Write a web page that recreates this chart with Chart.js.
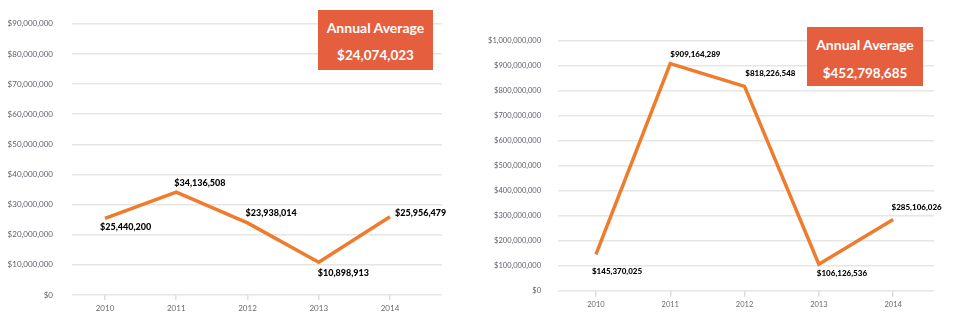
<!DOCTYPE html>
<html>
<head>
<meta charset="utf-8">
<script src="https://cdn.jsdelivr.net/npm/chart.js@4.4.1/dist/chart.umd.min.js"></script>
<style>
  html, body { margin: 0; padding: 0; background: #ffffff; }
  body { width: 954px; height: 332px; position: relative; overflow: hidden; font-family: Lato, "Open Sans", sans-serif; }
  .wrap { position: absolute; top: 0; }
  .avg { position: absolute; background: #e55e3e; color: #ffffff; font-weight: 700; text-align: center; }
  .avg div { position: absolute; left: 0; right: 0; line-height: 16px; white-space: nowrap; }
</style>
</head>
<body>
<div class="wrap" style="left:0;width:470px;height:332px;"><canvas id="c1" width="470" height="332"></canvas></div>
<div class="wrap" style="left:470px;width:484px;height:332px;"><canvas id="c2" width="484" height="332"></canvas></div>

<div class="avg" id="avg1" style="left:318px;top:10px;width:115px;height:60px;">
  <div style="top:10px;font-size:14px;">Annual Average</div>
  <div style="top:37px;font-size:13.5px;" id="avg1v"></div>
</div>
<div class="avg" id="avg2" style="left:807px;top:27px;width:116px;height:59px;">
  <div style="top:10px;font-size:14px;">Annual Average</div>
  <div style="top:38px;font-size:13.5px;" id="avg2v"></div>
</div>

<script>
// ---- data ----
const categories = ['2010', '2011', '2012', '2013', '2014'];
const valuesLeft = [25440200, 34136508, 23938014, 10898913, 25956479];
const valuesRight = [145370025, 909164289, 818226548, 106126536, 285106026];
const averageLeft = 24074023;
const averageRight = 452798685;
const yTicksLeft = [0, 10000000, 20000000, 30000000, 40000000, 50000000, 60000000, 70000000, 80000000, 90000000];
const yTicksRight = [0, 100000000, 200000000, 300000000, 400000000, 500000000, 600000000, 700000000, 800000000, 900000000, 1000000000];

const fmt = v => '$' + Number(v).toLocaleString('en-US');
document.getElementById('avg1v').textContent = fmt(averageLeft);
document.getElementById('avg2v').textContent = fmt(averageRight);

Chart.defaults.font.family = 'Lato, "Open Sans", sans-serif';

const labelPlugin = {
  id: 'pointLabels',
  afterDatasetsDraw(chart, args, opts) {
    const ctx = chart.ctx;
    const meta = chart.getDatasetMeta(0);
    const vals = chart.data.datasets[0].data;
    ctx.save();
    ctx.font = '900 ' + opts.size + 'px Lato, "Open Sans", sans-serif';
    ctx.fillStyle = '#000000';
    ctx.textAlign = 'left';
    ctx.textBaseline = 'middle';
    meta.data.forEach((el, i) => {
      const o = opts.offsets[i];
      ctx.fillText(fmt(vals[i].y), el.x + o[0], el.y + o[1]);
    });
    ctx.restore();
  }
};

function makeChart(id, values, yTicks, cfg) {
  const catNums = categories.map(Number);
  return new Chart(document.getElementById(id), {
    type: 'line',
    data: {
      datasets: [{
        data: catNums.map((x, i) => ({ x: x, y: values[i] })),
        borderColor: '#ef7b2d',
        borderWidth: 3.5,
        pointRadius: 0,
        pointHoverRadius: 0,
        tension: 0,
        fill: false
      }]
    },
    options: {
      responsive: false,
      animation: false,
      devicePixelRatio: 1,
      layout: { padding: cfg.padding },
      plugins: {
        legend: { display: false },
        tooltip: { enabled: false },
        pointLabels: { size: cfg.labelSize, offsets: cfg.offsets }
      },
      scales: {
        x: {
          type: 'linear',
          min: cfg.xMin,
          max: cfg.xMax,
          afterBuildTicks: s => { s.ticks = catNums.map(v => ({ value: v })); },
          afterFit: s => { s.height = cfg.xHeight; },
          ticks: {
            callback: v => String(v),
            color: '#6a6a70',
            font: { size: cfg.xFont },
            padding: cfg.xPad,
            maxRotation: 0
          },
          grid: { drawOnChartArea: false, drawTicks: true, tickLength: cfg.tickLen, color: '#dedede', lineWidth: 1.5 },
          border: { display: false }
        },
        y: {
          min: 0,
          max: yTicks[yTicks.length - 1],
          afterBuildTicks: s => { s.ticks = yTicks.map(v => ({ value: v })); },
          afterFit: s => { s.width = cfg.yWidth; },
          ticks: {
            callback: v => fmt(v),
            color: '#5e5e6a',
            font: { size: cfg.yFont },
            padding: cfg.yPad
          },
          grid: { drawTicks: false, color: '#e6e6e6', lineWidth: 1.5 },
          border: { display: false }
        }
      }
    },
    plugins: [labelPlugin]
  });
}

makeChart('c1', valuesLeft, yTicksLeft, {
  padding: { top: 20, right: 28, bottom: 0, left: 0 },
  xMin: 2009.537, xMax: 2014.73,
  xHeight: 37, xFont: 8, xPad: 4, tickLen: 5,
  yWidth: 72, yFont: 8, yPad: 19,
  labelSize: 9,
  offsets: [[-5, 8.5], [-2, -9], [-2, -10], [-1, 11], [5, -4]]
});

makeChart('c2', valuesRight, yTicksRight, {
  padding: { top: 41, right: 20, bottom: 0, left: 0 },
  xMin: 2009.485, xMax: 2014.55,
  xHeight: 41.3, xFont: 7.5, xPad: 3, tickLen: 6,
  yWidth: 87.7, yFont: 7.5, yPad: 16.7,
  labelSize: 8,
  offsets: [[-4, 17.5], [0, -9.7], [0.7, -13], [-2, 9], [-1.6, -12.2]]
});
</script>
</body>
</html>
